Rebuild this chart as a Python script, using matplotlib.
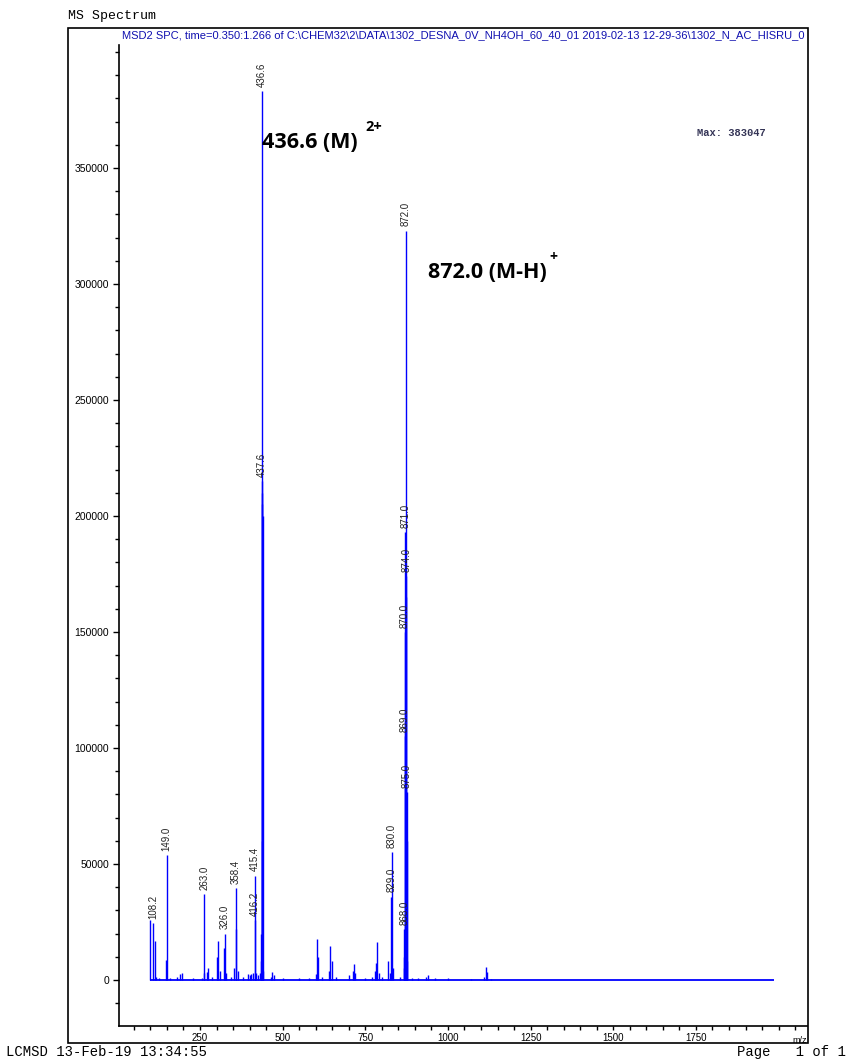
import matplotlib
matplotlib.use("Agg")
import matplotlib.pyplot as plt
from matplotlib.patches import Rectangle
from matplotlib.ticker import MultipleLocator

# stick spectrum: m/z and abundance
mz = [99.0, 108.2, 115.0, 118.0, 125.0, 147.0, 149.0, 160.0, 180.0, 190.0,
      195.0, 230.0, 255.0, 261.0, 263.0, 270.0, 275.0, 285.0, 300.0, 305.0,
      310.0, 322.0, 326.0, 330.0, 345.0, 352.0, 358.4, 360.0, 365.0, 380.0,
      395.0, 400.0, 405.0, 410.0, 415.4, 416.2, 420.0, 425.0, 430.0,
      434.6, 435.6, 436.6, 437.1, 437.6, 438.1, 438.6, 439.6, 441.0,
      466.0, 469.0, 473.0, 500.0, 550.0, 580.0, 600.0, 603.0, 607.0, 620.0,
      640.0, 644.6, 648.0, 660.0, 700.0, 712.0, 717.0, 720.0, 750.0, 770.0,
      780.0, 783.0, 785.0, 790.0, 800.0, 819.0, 825.0, 829.0, 830.0, 835.0,
      855.0, 866.0, 867.0, 868.0, 869.0, 870.0, 871.0, 872.0, 873.0, 874.0,
      875.0, 876.0, 877.0, 890.0, 910.0, 933.0, 940.0, 960.0, 1000.0,
      1071.0, 1110.0, 1114.0, 1117.0, 1130.0]
abundance = [26000, 24500, 17000, 1500, 800, 8500, 54000, 1000, 1200, 2500,
             3000, 800, 700, 3000, 37000, 3500, 5000, 1500, 10000, 17000,
             4000, 14000, 20000, 3000, 1500, 5000, 39500, 22000, 4000, 1500,
             2500, 2000, 2500, 3000, 45000, 26000, 3000, 2000, 3000,
             8000, 20000, 383047, 60000, 215000, 205000, 210000, 200000, 4000,
             1500, 3500, 2000, 800, 700, 1000, 2500, 17500, 10000, 1500,
             4000, 14500, 8000, 1500, 2000, 4000, 7000, 3000, 1000, 1500,
             4000, 7500, 16500, 3000, 1500, 8000, 3000, 36000, 55000, 5000,
             1500, 5000, 10000, 22000, 105000, 150000, 193000, 323000, 165000, 174000,
             81000, 60000, 8000, 1000, 1000, 1500, 2000, 800, 1000,
             600, 1500, 5500, 3500, 500]

labeled = [108.2, 149.0, 263.0, 326.0, 358.4, 415.4, 416.2, 436.6, 437.6,
           829.0, 830.0, 868.0, 869.0, 870.0, 871.0, 872.0, 874.0, 875.0]

baseStart, baseEnd = 99.0, 1985.0
maxAbundance = 383047

header = ("MSD2 SPC, time=0.350:1.266 of C:\\CHEM32\\2\\DATA\\1302_DESNA_0V_NH4OH_60_40_01 "
          "2019-02-13 12-29-36\\1302_N_AC_HISRU_0")

W, H = 850, 1059
fig = plt.figure(figsize=(W / 100, H / 100), dpi=100)

ax = fig.add_axes([119 / W, 33 / H, 688 / W, 981 / H])
ax.set_xlim(5, 2086)
ax.set_ylim(-19800, 403000)

blue = "#0000ff"
ax.hlines(0, baseStart, baseEnd, color=blue, lw=1.3)
ax.vlines(mz, 0, abundance, color=blue, lw=1.0)

for m, a in zip(mz, abundance):
    if m in labeled:
        ax.annotate(f"{m:.1f}", xy=(m, a), xytext=(0, 3), textcoords="offset points",
                    rotation=90, ha="center", va="bottom", fontsize=7,
                    family="Liberation Sans", color="#222222")

# ion assignments
t1 = ax.text(436.6, 360800, "436.6 (M)", fontsize=15.5, fontweight="bold",
             family="Open Sans", ha="left", va="center")
ax.annotate("2+", xy=(1, 0.85), xycoords=t1, xytext=(6, 6), textcoords="offset points",
            fontsize=10.5, fontweight="bold", family="Open Sans", ha="left", va="center")
t2 = ax.text(939.5, 305000, "872.0 (M-H)", fontsize=15.5, fontweight="bold",
             family="Open Sans", ha="left", va="center")
ax.annotate("+", xy=(1, 0.85), xycoords=t2, xytext=(2, 6), textcoords="offset points",
            fontsize=10, fontweight="bold", family="Open Sans", ha="left", va="center")

for side in ["top", "right"]:
    ax.spines[side].set_visible(False)
for side in ["left", "bottom"]:
    ax.spines[side].set_linewidth(1.2)

ax.set_xticks([250, 500, 750, 1000, 1250, 1500, 1750])
ax.xaxis.set_minor_locator(MultipleLocator(50))
ax.set_yticks(range(0, 400000, 50000))
ax.yaxis.set_minor_locator(MultipleLocator(10000))
ax.tick_params(axis="both", which="both", direction="out", width=1.0)
ax.tick_params(axis="x", which="both", length=3, pad=2, labelsize=7)
ax.tick_params(axis="y", which="major", length=4, pad=3, labelsize=7.5)
ax.tick_params(axis="y", which="minor", length=3)
for lab in ax.get_xticklabels() + ax.get_yticklabels():
    lab.set_family("Liberation Sans")

ax.text(1.0, -0.01, "m/z", transform=ax.transAxes, ha="right", va="top",
        fontsize=6.5, family="Liberation Sans")

# page frame and header line
fig.add_artist(Rectangle((68 / W, 16 / H), 740 / W, 1015 / H, transform=fig.transFigure,
                         fill=False, ec="black", lw=1.2))
fig.text(122 / W, 1 - 35 / H, header, ha="left", va="center", fontsize=8.0,
         family="Liberation Sans", color="#1010b0")

fig.text(697 / W, 1 - 133 / H, f"Max: {maxAbundance}", fontsize=7.5, fontweight="bold",
         family="Liberation Mono", color="#333355", va="center")
fig.text(68 / W, 1 - 16 / H, "MS Spectrum", fontsize=9.5, family="Liberation Mono",
         va="center")
fig.text(6 / W, 1 - 1052 / H, "LCMSD 13-Feb-19 13:34:55", fontsize=10,
         family="Liberation Mono", va="center")
fig.text(846 / W, 1 - 1052 / H, "Page   1 of 1", fontsize=10,
         family="Liberation Mono", va="center", ha="right")

fig.savefig("out.png", dpi=100)
